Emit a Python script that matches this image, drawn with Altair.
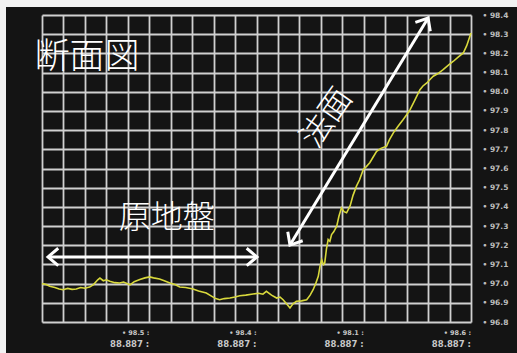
import altair as alt
import pandas as pd

# profile line (distance, grid-level)
xs = [0.0, 1.0, 1.8, 3.0, 4.0, 4.9, 6.0, 7.0, 8.0, 9.0, 10.0, 11.1, 12.0, 13.0, 13.5, 14.3, 15.0, 15.8,
      17.0, 18.1, 19.0, 20.5, 21.5, 22.8, 24.0, 25.1, 26.0, 27.4, 28.5, 29.8, 31.0, 32.1, 33.5, 35.2,
      36.5, 38.3, 39.5, 40.5, 41.4, 42.5, 43.8, 45.0, 46.1, 47.5, 49.2, 50.5, 51.5, 52.3, 53.5, 54.7,
      55.5, 56.2, 57.0, 57.8, 58.5, 59.3, 60.5, 61.7, 62.5, 63.2, 63.8, 64.4, 64.8, 65.2, 65.6, 65.9,
      66.3, 66.7, 67.1, 67.5, 68.0, 68.7, 69.2, 69.8, 70.4, 71.0, 71.8, 72.5, 73.3, 74.0, 74.9, 75.6,
      76.4, 77.2, 78.0, 79.0, 80.3, 81.0, 81.9, 83.0, 84.2, 85.0, 85.8, 87.0, 88.1, 88.8, 89.7, 90.5,
      91.2, 92.3, 93.5, 94.8, 95.9, 97.0, 98.2, 99.0, 100.0]
ys = [2.00, 1.95, 1.86, 1.80, 1.72, 1.68, 1.75, 1.70, 1.72, 1.80, 1.76, 1.82, 1.95, 2.20, 2.29, 2.15, 2.20, 2.12,
      2.05, 2.03, 2.08, 1.94, 2.10, 2.21, 2.30, 2.35, 2.30, 2.24, 2.15, 2.03, 1.95, 1.82, 1.80, 1.72,
      1.62, 1.51, 1.35, 1.22, 1.16, 1.22, 1.25, 1.30, 1.37, 1.40, 1.46, 1.50, 1.45, 1.60, 1.40, 1.25,
      1.30, 1.16, 0.95, 0.73, 0.95, 1.08, 1.10, 1.16, 1.40, 1.68, 2.00, 2.38, 2.90, 3.25, 3.00, 3.07,
      3.80, 4.30, 4.20, 4.56, 4.70, 4.99, 5.50, 5.95, 5.75, 5.69, 6.04, 6.60, 7.08, 7.40, 7.95, 8.10,
      8.30, 8.60, 8.90, 9.05, 9.16, 9.50, 9.86, 10.20, 10.55, 10.80, 11.07, 11.60, 12.11, 12.30, 12.46, 12.65,
      12.81, 12.95, 13.15, 13.40, 13.59, 13.80, 14.02, 14.40, 15.06]

# right axis labels (bottom to top)
y_labels = ["• 96.8", "• 96.9", "• 97.0", "• 97.1", "• 97.2", "• 97.3", "• 97.4", "• 97.5", "• 97.6",
            "• 97.7", "• 97.8", "• 97.9", "• 98.0", "• 98.1", "• 98.2", "• 98.3", "• 98.4"]
# bottom station labels
st_x = [25, 50, 75, 100]
st_top = ["• 98.5 :", "• 98.4 :", "• 98.1 :", "• 98.6 :"]
st_bot = ["88.887 :", "88.887 :", "88.887 :", "88.887 :"]

# annotations
lab_text = ["断面図", "原地盤", "法面"]
lab_x = [10.5, 29.1, 66.4]
lab_y = [13.8, 5.42, 10.63]
lab_size = [35, 32, 32]
lab_angle = [0, 0, 305]

arrow_x = [1.4, 50.1]
arrow_y = [3.39, 3.39]
arrow2_x = [57.8, 90.0]
arrow2_y = [4.01, 15.84]
head_x = [1.4, 50.1, 57.8, 90.0]
head_y = [3.39, 3.39, 4.01, 15.84]
head_ang = [180, 0, 121, 301]

W, H = 429, 307
xsc = alt.Scale(domain=[0, 100], nice=False, zero=False)
ysc = alt.Scale(domain=[0, 16], nice=False, zero=False)

line_df = pd.DataFrame({"x": xs, "y": ys})
ylab_expr = "[" + ",".join("'" + s + "'" for s in y_labels) + "][round(datum.value)]"

XAX = alt.Axis(values=list(range(0, 101, 5)), labels=False, ticks=False, domain=False,
               grid=True, gridColor="#d0d0d0", gridWidth=1.8, title=None)
YAX = alt.Axis(orient="right", values=list(range(0, 17)), ticks=False, domain=False,
               grid=True, gridColor="#d0d0d0", gridWidth=1.8, title=None,
               labelExpr=ylab_expr, labelColor="#bdbdbd", labelFontSize=7.5,
               labelFont="DejaVu Sans", labelFontWeight="bold", labelPadding=11)


def X(f="x"):
    return alt.X(f + ":Q", scale=xsc, axis=XAX)


def Y(f="y"):
    return alt.Y(f + ":Q", scale=ysc, axis=YAX)


base = alt.Chart(line_df).mark_line(color="#d8d83c", strokeWidth=1.6).encode(x=X(), y=Y())

arr1 = alt.Chart(pd.DataFrame({"x": arrow_x, "y": arrow_y})).mark_line(
    color="white", strokeWidth=3).encode(x=X(), y=Y())
arr2 = alt.Chart(pd.DataFrame({"x": arrow2_x, "y": arrow2_y})).mark_line(
    color="white", strokeWidth=3).encode(x=X(), y=Y())
heads = alt.Chart(pd.DataFrame({"x": head_x, "y": head_y, "a": head_ang})).mark_point(
    shape="M-1,-0.85L0,0L-1,0.85", filled=False, stroke="white", strokeWidth=3, size=420,
    opacity=1, strokeJoin="miter").encode(
    x=X(), y=Y(), angle=alt.Angle("a:Q", scale=None))

labels = alt.Chart(pd.DataFrame({"t": lab_text, "x": lab_x, "y": lab_y, "s": lab_size, "a": lab_angle})).mark_text(
    color="white", font="Noto Sans CJK JP", fontWeight=300, align="center", baseline="middle").encode(
    x=X(), y=Y(), text="t:N",
    size=alt.Size("s:Q", scale=None), angle=alt.Angle("a:Q", scale=None))

st_df = pd.DataFrame({"x": st_x, "t1": st_top, "t2": st_bot})
st1 = alt.Chart(st_df).mark_text(color="#c8c8c8", fontSize=6.5, fontWeight="bold", font="DejaVu Sans",
                                 align="right", baseline="middle").encode(
    x=X(), y=alt.value(H + 11), text="t1:N")
st2 = alt.Chart(st_df).mark_text(color="#c8c8c8", fontSize=8.5, fontWeight="bold", font="DejaVu Sans",
                                 align="right", baseline="middle").encode(
    x=X(), y=alt.value(H + 22), text="t2:N")

strips = alt.Chart(pd.DataFrame({"k": [0]})).mark_rect(color="#f2f2f2").encode(
    x=alt.value(-42), x2=alt.value(-36), y=alt.value(-15), y2=alt.value(H + 31))
strip_top = alt.Chart(pd.DataFrame({"k": [0]})).mark_rect(color="#f2f2f2").encode(
    x=alt.value(-42), x2=alt.value(W + 46), y=alt.value(-15), y2=alt.value(-8))

chart = alt.layer(base, strips, strip_top, arr1, arr2, heads, labels, st1, st2).properties(
    width=W, height=H,
    autosize=alt.AutoSizeParams(type="none"),
    padding={"left": 42, "top": 15, "right": 46, "bottom": 31},
    background="#141414",
).configure_view(stroke=None)

chart.save("out.html", embed_options={"renderer": "svg", "actions": False})
